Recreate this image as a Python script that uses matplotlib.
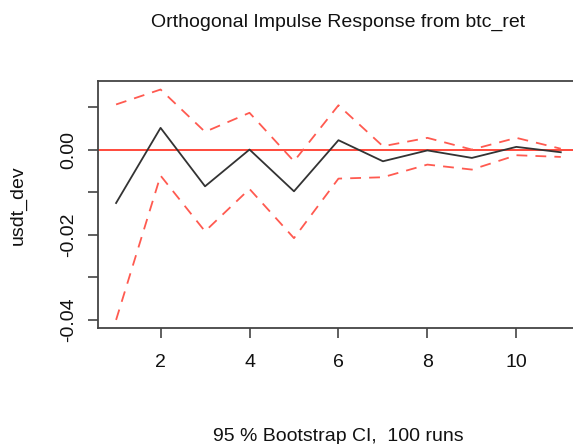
import numpy as np
import matplotlib
matplotlib.use("Agg")
import matplotlib.pyplot as plt

plt.rcParams['font.family'] = ['Liberation Sans', 'DejaVu Sans']

# horizon steps
steps = [1, 2, 3, 4, 5, 6, 7, 8, 9, 10, 11]
# orthogonal irf of usdt_dev to btc_ret shock
irf = [-0.01255, 0.0051, -0.00863, 0.0, -0.0098, 0.0022,
       -0.00275, -0.0002, -0.00196, 0.00063, -0.00063]
upper = [0.01059, 0.0141, 0.00416, 0.00863, -0.00275, 0.0104,
         0.00078, 0.00275, 0.0, 0.00275, 0.0002]
lower = [-0.0400, -0.00612, -0.0192, -0.00925, -0.0208, -0.00682,
         -0.0065, -0.00353, -0.0047, -0.00133, -0.00173]

yticks = [0.01, 0.0, -0.01, -0.02, -0.03, -0.04]
ytick_labels = ['', '0.00', '', '-0.02', '', '-0.04']
xticks = [2, 4, 6, 8, 10]

fig = plt.figure(figsize=(5.73, 4.44), dpi=100)
# the plot box runs past the right edge, like the reference
ax = fig.add_axes([98.3 / 573, 1 - 328 / 444, (578.6 - 98.3) / 573, (328 - 81) / 444])

ax.axhline(0, color='#ff2a1a', lw=1.2, zorder=2)
ax.plot(steps, irf, color='#333333', lw=1.3, zorder=3)
ax.plot(steps, upper, color='#ff5a50', lw=1.3, dashes=(6, 4.5), zorder=3)
ax.plot(steps, lower, color='#ff5a50', lw=1.3, dashes=(6, 4.5), zorder=3)

ax.set_xlim(0.6, 11.4)
ax.set_ylim(-0.0419, 0.0161)
ax.set_xticks(xticks)
ax.set_xticklabels([str(t) for t in xticks])
ax.set_yticks(yticks)
ax.set_yticklabels(ytick_labels, rotation=90, va='center')

for s in ax.spines.values():
    s.set_color('#444444')
    s.set_linewidth(1.3)
ax.tick_params(axis='both', direction='out', length=7, width=1.2, color='#444444',
               labelsize=14, labelcolor='#111111', pad=8)
ax.tick_params(axis='x', pad=12)

fig.text(338 / 573, 1 - 22 / 444, 'Orthogonal Impulse Response from btc_ret',
         ha='center', va='center', fontsize=14, color='#111111')
fig.text(338 / 573, 1 - 436 / 444, '95 % Bootstrap CI,  100 runs',
         ha='center', va='center', fontsize=14, color='#111111')
fig.text(18 / 573, 1 - 205 / 444, 'usdt_dev', rotation=90,
         ha='center', va='center', fontsize=14, color='#111111')

fig.savefig('out.png', dpi=100)
